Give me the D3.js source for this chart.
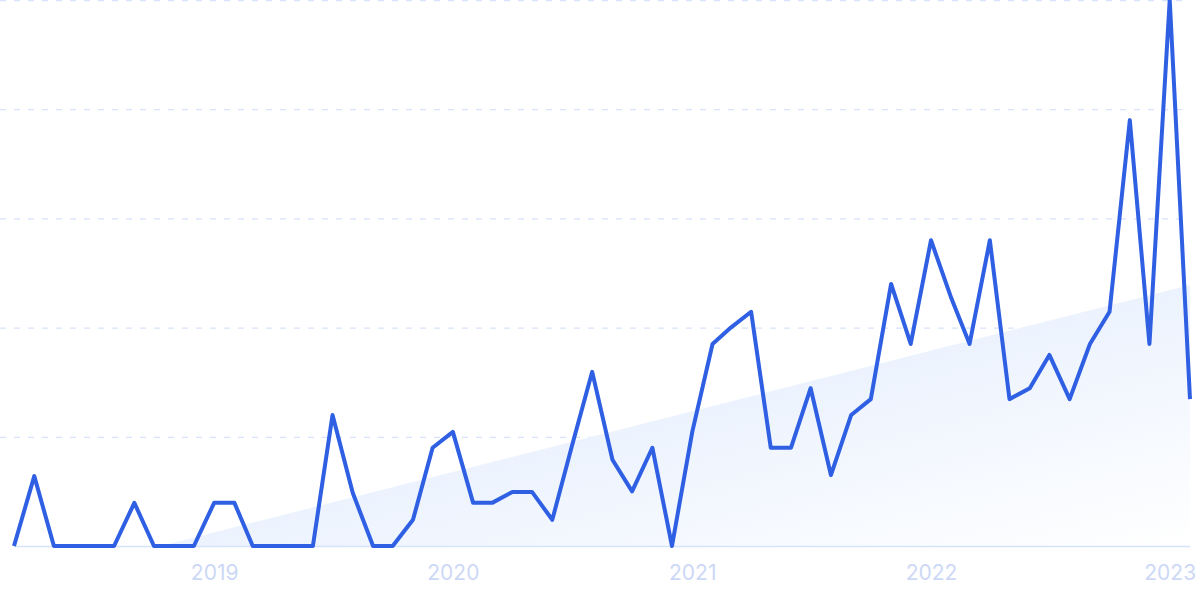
<!DOCTYPE html>
<html>
<head>
<meta charset="utf-8">
<script src="https://cdn.jsdelivr.net/npm/d3@7"></script>
<style>
html,body{margin:0;padding:0;background:#fff;}
svg{display:block;}
</style>
</head>
<body>
<svg id="chart" width="1200" height="599"></svg>
<script>
// Monthly data, Mar 2018 .. Feb 2023
const startMonth = "2018-03";
const values = [
  0, 12.8, 0, 0, 0, 0, 7.9, 0, 0, 0,
  7.9, 7.9, 0, 0, 0, 0, 24, 9.7, 0, 0,
  4.8, 18, 20.9, 7.9, 7.9, 9.9, 9.9, 4.8, 18.3, 31.9,
  15.8, 10, 18, 0, 20.9, 37, 40, 42.9, 18, 18,
  28.9, 13, 24, 26.9, 48, 37, 56, 45.4, 37, 56,
  26.9, 28.9, 35, 26.9, 37, 42.9, 78, 37, 100, 26.9
];
const trendValues = [-6.8, 47.8]; // trend at first and last month
const yTicks = [0, 20, 40, 60, 80, 100];
const xTickLabels = ["2019", "2020", "2021", "2022", "2023"];

const parse = d3.timeParse("%Y-%m");
const t0 = parse(startMonth);
const data = values.map((v, i) => ({date: d3.timeMonth.offset(t0, i), value: v}));
const tEnd = data[data.length - 1].date;

const svg = d3.select("#chart");
const x = d3.scaleTime().domain([t0, tEnd]).range([14, 1190]);
const y = d3.scaleLinear().domain([0, 100]).range([546, 0]);

// gradient
const defs = svg.append("defs");
const grad = defs.append("linearGradient").attr("id", "trendGrad")
  .attr("x1", "0").attr("y1", "0").attr("x2", "1").attr("y2", "1");
grad.append("stop").attr("offset", "0").attr("stop-color", "#d9e7fb");
grad.append("stop").attr("offset", "0.55").attr("stop-color", "#eef4fe");
grad.append("stop").attr("offset", "1").attr("stop-color", "#ffffff");

// gridlines
svg.append("g").selectAll("line").data(yTicks.filter(d => d > 0)).join("line")
  .attr("x1", 0).attr("x2", 1190)
  .attr("y1", d => y(d) + 0.5).attr("y2", d => y(d) + 0.5)
  .attr("stroke", "#d8e2fb").attr("stroke-width", 1.3)
  .attr("stroke-dasharray", "6,8");

// trend area (clipped at zero)
const tScale = d3.scaleLinear().domain([t0, tEnd].map(Number)).range(trendValues);
const zeroTime = new Date(tScale.invert(0));
const trendPts = [
  {date: zeroTime, v: 0},
  {date: tEnd, v: trendValues[1]}
];
const area = d3.area().x(d => x(d.date)).y0(y(0)).y1(d => y(d.v));
svg.append("path").datum(trendPts)
  .attr("d", area)
  .attr("fill", "url(#trendGrad)");

// baseline
svg.append("line").attr("x1", 14).attr("x2", 1190)
  .attr("y1", y(0) + 0.5).attr("y2", y(0) + 0.5)
  .attr("stroke", "#d6e4fa").attr("stroke-width", 1.5);

// x axis labels
const xAxis = d3.axisBottom(x)
  .tickValues(xTickLabels.map(s => parse(s + "-01")))
  .tickFormat(d3.timeFormat("%Y"))
  .tickSize(0).tickPadding(19);
const gx = svg.append("g").attr("transform", `translate(0,${y(0)})`).call(xAxis);
gx.select(".domain").remove();
gx.selectAll("text")
  .attr("fill", "#cdd8f6")
  .style("font-family", "Inter, 'Open Sans', sans-serif")
  .style("font-size", "21px");

// line
const line = d3.line().x(d => x(d.date)).y(d => y(d.value));
svg.append("path").datum(data)
  .attr("d", line)
  .attr("fill", "none")
  .attr("stroke", "#2f5fe3")
  .attr("stroke-width", 4)
  .attr("stroke-linejoin", "round")
  .attr("stroke-linecap", "butt");
</script>
</body>
</html>
